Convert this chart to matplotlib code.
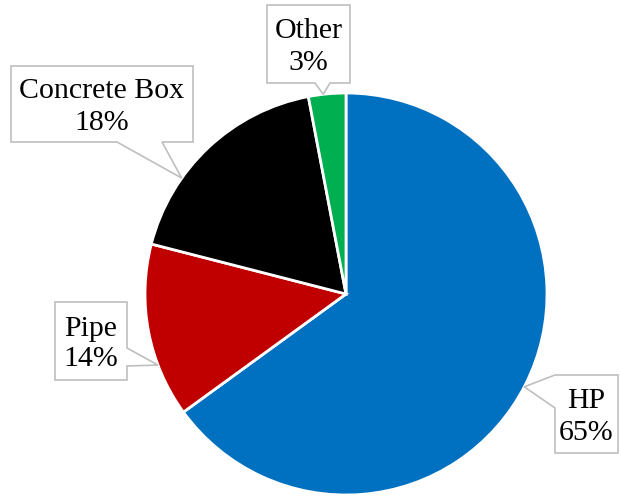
import matplotlib.pyplot as plt
from matplotlib.patches import Polygon
import numpy as np

# data
categories = ['HP', 'Pipe', 'Concrete Box', 'Other']
shares = [65, 14, 18, 3]
colors = ['#0070C0', '#C00000', '#000000', '#00B050']

plt.rcParams['font.family'] = ['Liberation Serif', 'DejaVu Serif']

fig = plt.figure(figsize=(6.2, 4.97), dpi=100)
ax = fig.add_axes([0, 0, 1, 1])

# pixel-like coordinates, y pointing down: clockwise on screen = counterclockwise in data
cx, cy, r = 346, 294, 201
ax.pie(shares, colors=colors, startangle=-90, counterclock=True,
       center=(cx, cy), radius=r, frame=True,
       wedgeprops=dict(edgecolor='white', linewidth=2))
ax.set_xlim(0, 620)
ax.set_ylim(497, 0)
ax.set_aspect('equal')
ax.axis('off')

# callout layout: box (x0, y0, x1, y1), side of pointer, pointer base, tip angle (deg)
callouts = {
    'HP': ((555, 375, 618, 453), 'left', (375, 408), -27.5),
    'Pipe': ((55, 302, 127, 380), 'right', (348, 366), 200.7),
    'Concrete Box': ((11, 66, 193, 142), 'bottom', (117, 162), 144.8),
    'Other': ((267, 5, 350, 83), 'bottom', (315, 330), 96.5),
}


def outline(box, side, base, tip):
    x0, y0, x1, y1 = box
    b1, b2 = base
    if side == 'bottom':
        return [(x0, y0), (x1, y0), (x1, y1), (b2, y1), tip, (b1, y1), (x0, y1)]
    if side == 'right':
        return [(x0, y0), (x1, y0), (x1, b1), tip, (x1, b2), (x1, y1), (x0, y1)]
    return [(x0, y0), (x1, y0), (x1, y1), (x0, y1), (x0, b2), tip, (x0, b1)]


for name, val in zip(categories, shares):
    box, side, base, ang = callouts[name]
    a = np.radians(ang)
    tip = (cx + r * np.cos(a), cy - r * np.sin(a))
    ax.add_patch(Polygon(outline(box, side, base, tip), closed=True,
                         facecolor='white', edgecolor='#BFBFBF', linewidth=1.2, zorder=3))
    ax.text((box[0] + box[2]) / 2, (box[1] + box[3]) / 2 + 3, f'{name}\n{val}%',
            ha='center', va='center', fontsize=21.5, linespacing=1.25, zorder=4)

fig.savefig('out.png', dpi=100)
